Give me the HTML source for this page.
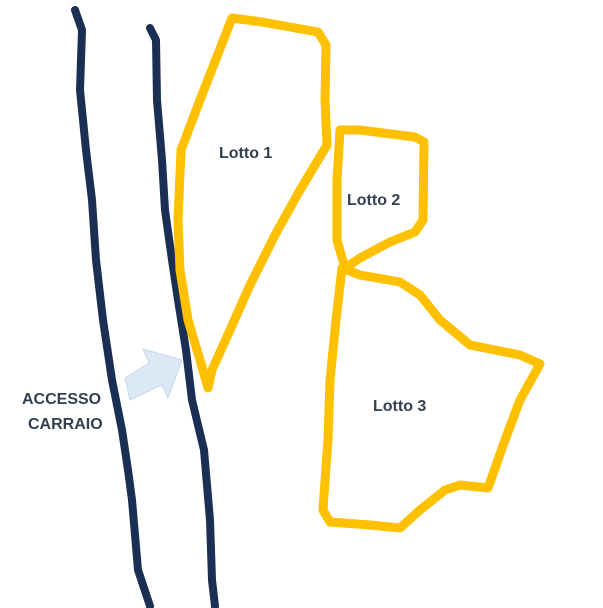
<!DOCTYPE html>
<html><head><style>html,body{margin:0;padding:0;background:#fff;}svg{display:block}</style></head>
<body>
<svg width="603" height="608" viewBox="0 0 603 608" xmlns="http://www.w3.org/2000/svg">
<g fill="none" stroke="#1b2f55" stroke-width="8" stroke-linejoin="round" stroke-linecap="round">
<polyline points="75,10 82,30 80,90 86,150 92,200 96,260 103,320 112,380 122,430 128,470 132,500 138,570 150,606"/>
<polyline points="150,28 156,40 157,100 162,160 165,210 172,260 178,300 186,350 192,400 204,450 210,520 212,580 215,606"/>
</g>
<polygon points="125,378 149,363 143,349 182,360 168,398 162,385 130,400" fill="#dce8f5" stroke="#c9daef" stroke-width="1"/>
<g fill="none" stroke="#ffc000" stroke-width="9" stroke-linejoin="round" stroke-linecap="round">
<polygon points="232,18 262,22 318,32 326,45 325,100 327,145 318,160 300,190 275,235 250,285 230,330 212,370 208,388 200,360 188,320 180,270 178,220 181,150 200,100"/>
<polygon points="340,130 360,130 415,137 424,142 423,220 415,232 390,242 360,258 345,268 337,240 337,180"/>
<polygon points="342,268 360,275 400,282 420,295 440,320 470,345 520,355 540,364 520,400 505,440 488,488 460,485 445,490 420,510 400,528 370,525 330,522 323,510 325,480 328,440 330,380 336,320"/>
</g>
<g font-family="Liberation Sans, sans-serif" font-weight="bold" font-size="16" fill="#333f50">
<text x="219" y="158">Lotto 1</text>
<text x="347" y="205">Lotto 2</text>
<text x="373" y="411">Lotto 3</text>
<text x="22" y="404">ACCESSO</text>
<text x="28" y="429">CARRAIO</text>
</g>
</svg>
</body></html>
